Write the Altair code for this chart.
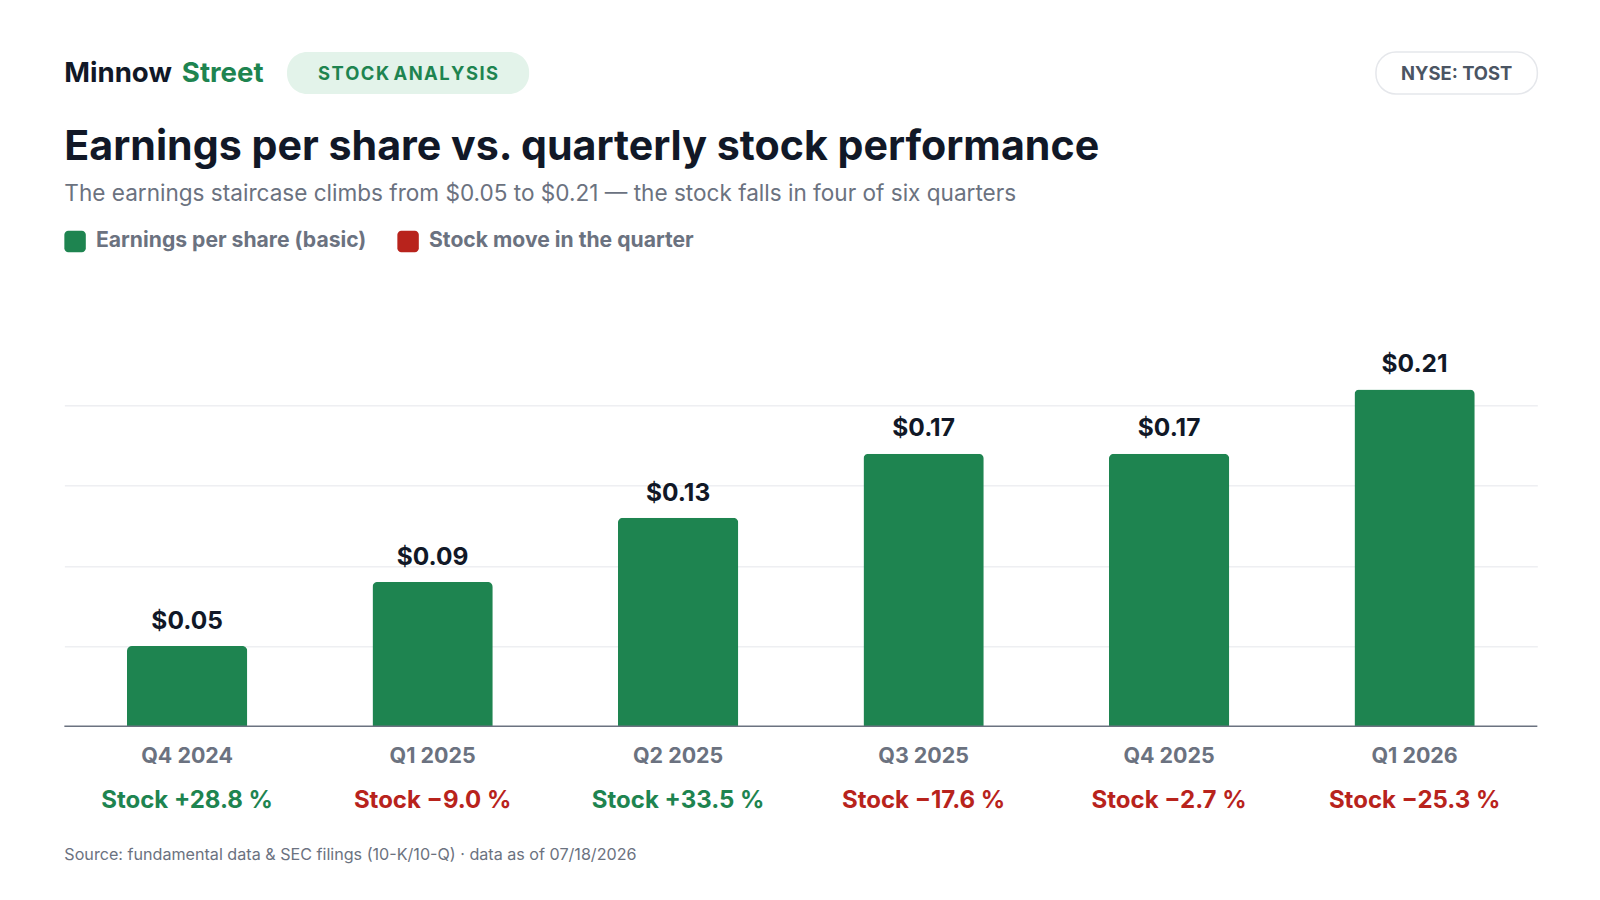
import altair as alt
import pandas as pd

quarters = ["Q4 2024", "Q1 2025", "Q2 2025", "Q3 2025", "Q4 2025", "Q1 2026"]
eps = [0.05, 0.09, 0.13, 0.17, 0.17, 0.21]
stock_move = [28.8, -9.0, 33.5, -17.6, -2.7, -25.3]

GREEN = "#1e8450"
RED = "#b8231c"
DARK = "#111827"
GRAY = "#6b7280"
FONT = "Inter"
S = 1.0215
YMAX = 0.25

df = pd.DataFrame({"q": quarters, "eps": eps, "move": stock_move})
df["eps_label"] = df["eps"].map(lambda v: f"${v:.2f}")
df["move_label"] = df["move"].map(lambda v: f"Stock {'+' if v >= 0 else '\u2212'}{abs(v):.1f} %")
df["up"] = df["move"] >= 0

W, H = 1442 * S, 392.5 * S
OX, OY = 63, 318.5  # plot origin in reference coords

def X(v): return (v - OX) * S
def Y(v): return (v - OY) * S

xs = alt.X("q:N", sort=quarters, axis=None,
           scale=alt.Scale(paddingInner=0.51, paddingOuter=0.255))
ys = alt.Y("eps:Q", axis=alt.Axis(values=[0.05, 0.10, 0.15, 0.20], grid=True, gridColor="#e5e7eb",
                                  labels=False, ticks=False, domain=False, title=None),
           scale=alt.Scale(domain=[0, YMAX], nice=False))

base = alt.Chart(df)
bars = base.mark_bar(color=GREEN, cornerRadiusTopLeft=5, cornerRadiusTopRight=5).encode(x=xs, y=ys)
vals = base.mark_text(baseline="bottom", dy=-12 * S, fontSize=24 * S, fontWeight="bold", font=FONT, color=DARK).encode(
    x=xs, y="eps:Q", text="eps_label:N")
qlab = base.mark_text(baseline="middle", fontSize=21 * S, fontWeight="bold", font=FONT, color=GRAY).encode(
    x=xs, y=alt.value(Y(741)), text="q:N")
mlab = base.mark_text(baseline="middle", fontSize=23.5 * S, fontWeight="bold", font=FONT).encode(
    x=xs, y=alt.value(Y(784)), text="move_label:N",
    color=alt.Color("up:N", scale=alt.Scale(domain=[True, False], range=[GREEN, RED]), legend=None))
baseline = alt.Chart(pd.DataFrame({"v": [0]})).mark_rule(color=GRAY, strokeWidth=1.5).encode(
    y=alt.Y("v:Q", scale=alt.Scale(domain=[0, YMAX], nice=False)), x=alt.value(0), x2=alt.value(W))

one = pd.DataFrame({"a": [0]})
def txt(t, x, y, size, color, weight="normal", align="left"):
    return alt.Chart(one).mark_text(text=t, align=align, baseline="middle", fontSize=size * S, fontWeight=weight,
                                    font=FONT, color=color).encode(x=alt.value(X(x)), y=alt.value(Y(y)))
def box(x1, x2, y1, y2, fill, r, stroke=None):
    kw = dict(fill=fill, cornerRadius=r)
    if stroke:
        kw.update(stroke=stroke, strokeWidth=1.5)
    return alt.Chart(one).mark_rect(**kw).encode(x=alt.value(X(x1)), x2=alt.value(X(x2)),
                                                 y=alt.value(Y(y1)), y2=alt.value(Y(y2)))

hs = "\u200a"
deco = [
    txt("Minnow", 63, 72, 27, DARK, "bold"),
    txt("Street", 178, 72, 27, GREEN, "bold"),
    box(281, 518, 51, 92, "#e3f3ea", 20),
    txt(hs.join("STOCK") + "  " + hs.join("ANALYSIS"), 399.5, 72, 18, GREEN, "bold", "center"),
    box(1347, 1505, 51, 92, "#ffffff", 20, "#e5e7eb"),
    txt("NYSE: TOST", 1426, 72, 18, "#4b5563", "bold", "center"),
    txt("Earnings per share vs. quarterly stock performance", 63, 145, 40.3, DARK, "bold"),
    txt("The earnings staircase climbs from $0.05 to $0.21 \u2014 the stock falls in four of six quarters",
        63, 190, 22.1, GRAY),
    box(63, 84, 226, 247, GREEN, 4),
    txt("Earnings per share (basic)", 94, 236, 20.7, GRAY, "bold"),
    box(389, 410, 226, 247, RED, 4),
    txt("Stock move in the quarter", 420, 236, 20.7, GRAY, "bold"),
    txt("Source: fundamental data & SEC filings (10-K/10-Q) \u00b7 data as of 07/18/2026", 63, 837, 15.8, GRAY),
]

chart = alt.layer(bars, baseline, vals, qlab, mlab, *deco).properties(
    width=W, height=H, autosize=alt.AutoSizeParams(type="none"), background="white",
    padding={"left": OX * S - 8, "top": OY * S - 8, "right": 40, "bottom": 200},
).configure_view(stroke=None)

chart.save("out.html", embed_options={"renderer": "svg", "actions": False})
